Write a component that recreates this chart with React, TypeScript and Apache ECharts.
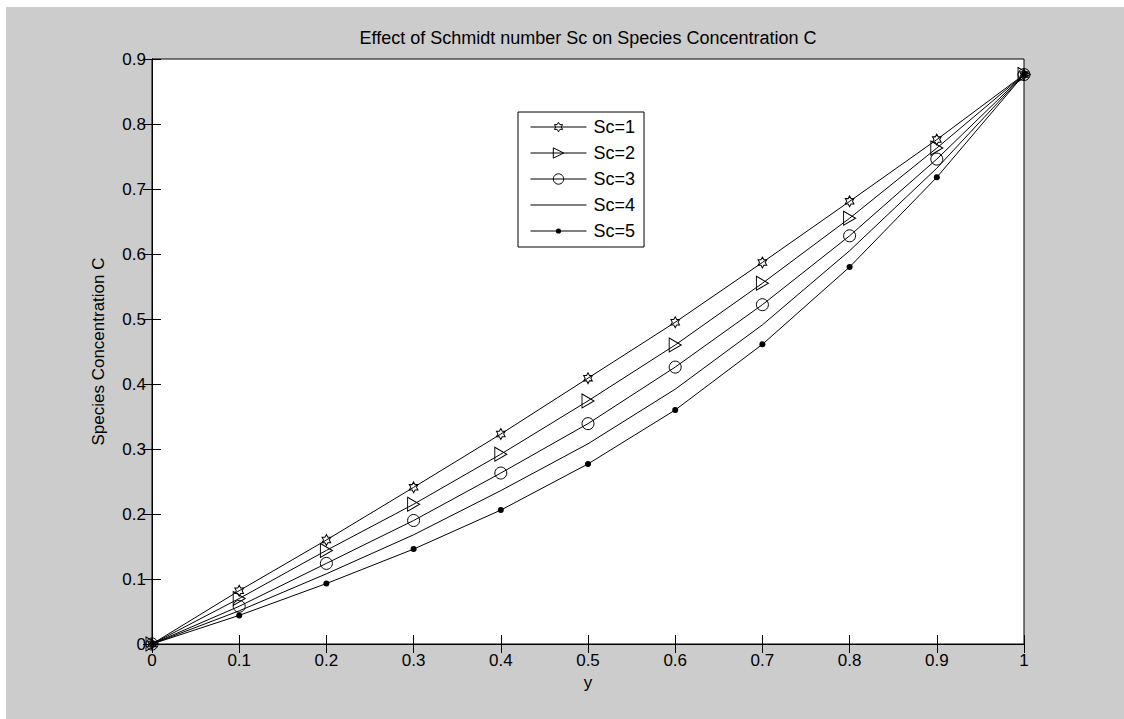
import React, { useEffect, useRef } from "react";
import * as echarts from "echarts";

// Dimensionless distance y across the channel
const yPositions = [0, 0.1, 0.2, 0.3, 0.4, 0.5, 0.6, 0.7, 0.8, 0.9, 1];

// Species concentration C for each Schmidt number
const concSc1 = [0, 0.082, 0.160, 0.241, 0.323, 0.409, 0.495, 0.587, 0.681, 0.776, 0.876];
const concSc2 = [0, 0.070, 0.144, 0.215, 0.292, 0.374, 0.460, 0.555, 0.655, 0.763, 0.876];
const concSc3 = [0, 0.058, 0.124, 0.190, 0.263, 0.339, 0.426, 0.522, 0.628, 0.746, 0.876];
const concSc4 = [0, 0.051, 0.108, 0.168, 0.236, 0.308, 0.392, 0.491, 0.605, 0.732, 0.876];
const concSc5 = [0, 0.044, 0.093, 0.146, 0.206, 0.277, 0.360, 0.461, 0.580, 0.718, 0.876];

const seriesNames = ["Sc=1", "Sc=2", "Sc=3", "Sc=4", "Sc=5"];

const FONT = "'Liberation Sans', Arial, Helvetica, sans-serif";

// Marker shapes. The leading bare move-to points pad the bounding box so the
// drawn shape keeps its intended size inside the legend's fixed icon box.
const HEXAGRAM =
  "path://M-5,-5 M105,105 M50,0 L64.43,25 L93.3,25 L78.87,50 L93.3,75 L64.43,75 L50,100 L35.57,75 L6.7,75 L21.13,50 L6.7,25 L35.57,25 Z";
const TRIANGLE_RIGHT = "path://M0,0 L100,50 L0,100 Z";
const SMALL_DOT = "path://M0,0 M100,100 M75,50 A25,25 0 1 1 25,50 A25,25 0 1 1 75,50 Z";
const NO_MARK = "path://M0,0 M100,100";

const toPairs = (vals: number[]) => yPositions.map((x, i) => [x, vals[i]]);

const tickFmt = (v: number) => {
  if (Math.abs(v) < 1e-9) return "0";
  if (Math.abs(v - 1) < 1e-9) return "1";
  return v.toFixed(1);
};

export default function App() {
  const ref = useRef<HTMLDivElement>(null);

  useEffect(() => {
    if (!ref.current) return;
    const chart = echarts.init(ref.current, null, { renderer: "svg" });

    const hollow = {
      color: "transparent",
      borderColor: "#000",
      borderWidth: 1,
    };
    const line = { color: "#000", width: 1 };

    const symbols: any[] = [
      { symbol: HEXAGRAM, symbolSize: [11, 12], itemStyle: hollow, show: true },
      { symbol: TRIANGLE_RIGHT, symbolSize: [12, 14], itemStyle: hollow, show: true },
      { symbol: "circle", symbolSize: 12, itemStyle: hollow, show: true },
      { symbol: NO_MARK, symbolSize: 1, itemStyle: { color: "#000" }, show: false },
      { symbol: SMALL_DOT, symbolSize: 12, itemStyle: { color: "#000", borderWidth: 0 }, show: true },
    ];
    const seriesData = [concSc1, concSc2, concSc3, concSc4, concSc5];

    const axisCommon = {
      type: "value" as const,
      axisLine: { show: true, lineStyle: { color: "#000", width: 1 } },
      axisTick: { show: true, inside: true, length: 9, lineStyle: { color: "#000", width: 1 } },
      splitLine: { show: false },
    };

    chart.setOption({
      animation: false,
      backgroundColor: "transparent",
      textStyle: { fontFamily: FONT },
      graphic: [
        {
          type: "rect",
          z: -10,
          silent: true,
          shape: { x: 6, y: 7, width: 1118, height: 712 },
          style: { fill: "#cccccc" },
        },
      ],
      title: {
        text: "Effect of Schmidt number Sc on Species Concentration C",
        left: 588,
        top: 29,
        textAlign: "center",
        padding: 0,
        textStyle: { fontFamily: FONT, fontSize: 18, fontWeight: "normal", color: "#000" },
      },
      grid: {
        left: 152,
        top: 59,
        right: 100,
        bottom: 75,
        show: true,
        backgroundColor: "#fff",
        borderColor: "#000",
        borderWidth: 1,
      },
      legend: {
        orient: "vertical",
        left: 518,
        top: 112,
        data: seriesNames,
        itemWidth: 56,
        itemHeight: 13,
        itemGap: 8,
        padding: [6, 9, 7, 12],
        backgroundColor: "#fff",
        borderColor: "#000",
        borderWidth: 1,
        borderRadius: 0,
        itemStyle: { borderWidth: 1 },
        lineStyle: { width: 1, color: "#000" },
        textStyle: { fontFamily: FONT, fontSize: 18, color: "#000", padding: [0, 0, 0, 2] },
      },
      xAxis: [
        {
          ...axisCommon,
          position: "bottom",
          min: 0,
          max: 1,
          interval: 0.1,
          name: "y",
          nameLocation: "middle",
          nameGap: 28,
          nameTextStyle: { fontFamily: FONT, fontSize: 17, color: "#000" },
          axisLabel: { show: true, margin: 8, fontFamily: FONT, fontSize: 17, color: "#000", formatter: tickFmt },
        },
        {
          ...axisCommon,
          position: "top",
          min: 0,
          max: 1,
          interval: 0.1,
          axisLabel: { show: false },
        },
      ],
      yAxis: [
        {
          ...axisCommon,
          position: "left",
          min: 0,
          max: 0.9,
          interval: 0.1,
          name: "Species Concentration C",
          nameLocation: "middle",
          nameGap: 45,
          nameTextStyle: { fontFamily: FONT, fontSize: 17, color: "#000" },
          axisLabel: { show: true, margin: 6, fontFamily: FONT, fontSize: 17, color: "#000", formatter: tickFmt },
        },
        {
          ...axisCommon,
          position: "right",
          min: 0,
          max: 0.9,
          interval: 0.1,
          axisLabel: { show: false },
        },
      ],
      series: seriesNames.map((name, i) => ({
        name,
        type: "line",
        xAxisIndex: 0,
        yAxisIndex: 0,
        data: toPairs(seriesData[i]),
        showSymbol: symbols[i].show,
        symbol: symbols[i].symbol,
        symbolSize: symbols[i].symbolSize,
        symbolKeepAspect: false,
        itemStyle: symbols[i].itemStyle,
        lineStyle: line,
        smooth: false,
        z: 3 + i,
        emphasis: { disabled: true },
      })),
    });

    return () => chart.dispose();
  }, []);

  return (
    <div
      ref={ref}
      style={{ position: "absolute", left: 0, top: 0, width: 1124, height: 719, background: "#fff" }}
    />
  );
}
